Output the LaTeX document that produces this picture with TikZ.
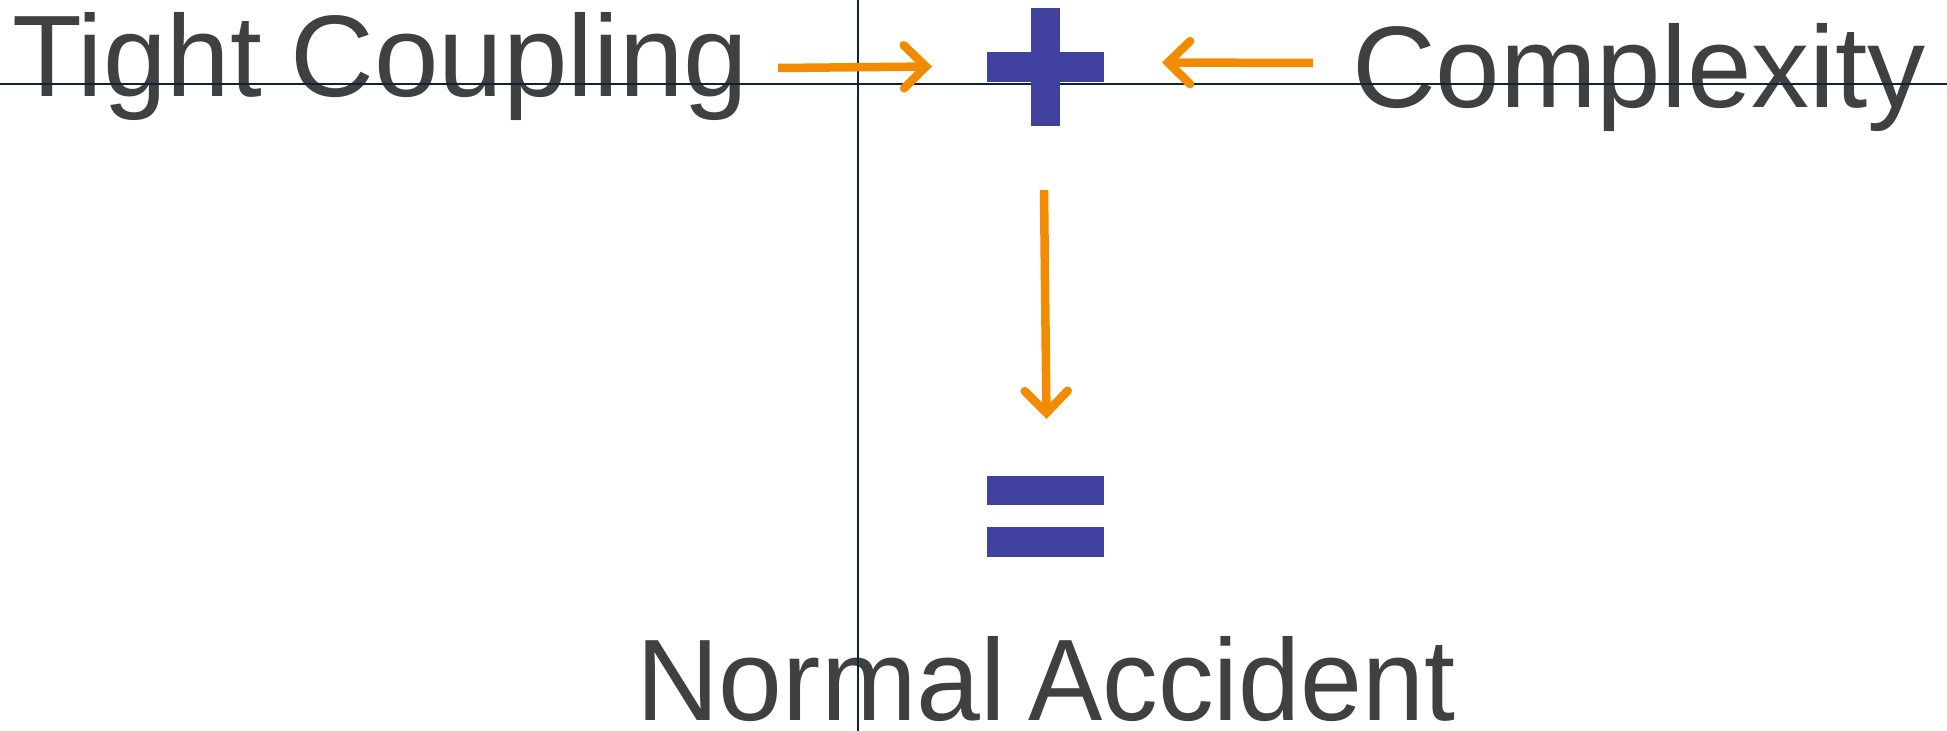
\documentclass[tikz,border=0pt]{standalone}
\usepackage{fontspec}
\setmainfont{Liberation Sans}
\usetikzlibrary{arrows.meta}
\definecolor{txt}{RGB}{64,64,64}
\definecolor{mark}{RGB}{65,65,160}
\definecolor{flow}{RGB}{242,139,0}
\definecolor{guide}{RGB}{12,36,56}
\newcommand{\narrow}[2]{\scalebox{#1}[1]{#2}}
\begin{document}
\begin{tikzpicture}[x=1pt,y=-1pt,
  lbl/.style={inner sep=0pt, outer sep=0pt, anchor=base west, text=txt,
              font=\fontsize{116}{120}\selectfont},
  guideline/.style={draw=guide, line width=1.3pt},
  sym/.style={fill=mark},
  flowarrow/.style={draw=flow, line width=8.5pt, line cap=butt,
    -{Straight Barb[length=22pt,width=43pt,line cap=round,line join=miter]}}]
\useasboundingbox (0,0) rectangle (1947,731);

% labels
\node[lbl] (tc) at (12.3,96) {\narrow{0.985}{Tight}\kern-4pt\ Coupling};
\node[lbl] (cx) at (1352,107) {Complexity};
\node[lbl] (na) at (636,720) {\narrow{0.99}{Normal}\kern-10pt\ \narrow{0.96}{Accident}};

% guide lines
\draw[guideline] (0,84) -- (1947,84);
\draw[guideline] (858,0) -- (858,731);

% plus sign
\fill[sym] (987,52) rectangle (1104,82);
\fill[sym] (1031,8) rectangle (1060,126);
% equals sign
\fill[sym] (987,476) rectangle (1104,505);
\fill[sym] (987,527) rectangle (1104,557);

% arrow end points
\coordinate (tcOut) at (778,68);
\coordinate (plusL) at (932,66.5);
\coordinate (cxOut) at (1313,63);
\coordinate (plusR) at (1162,62.5);
\coordinate (plusB) at (1044,190);
\coordinate (eqT)   at (1046.5,419);

\draw[flowarrow] (tcOut) -- (plusL);
\draw[flowarrow] (cxOut) -- (plusR);
\draw[flowarrow] (plusB) -- (eqT);
\end{tikzpicture}
\end{document}
